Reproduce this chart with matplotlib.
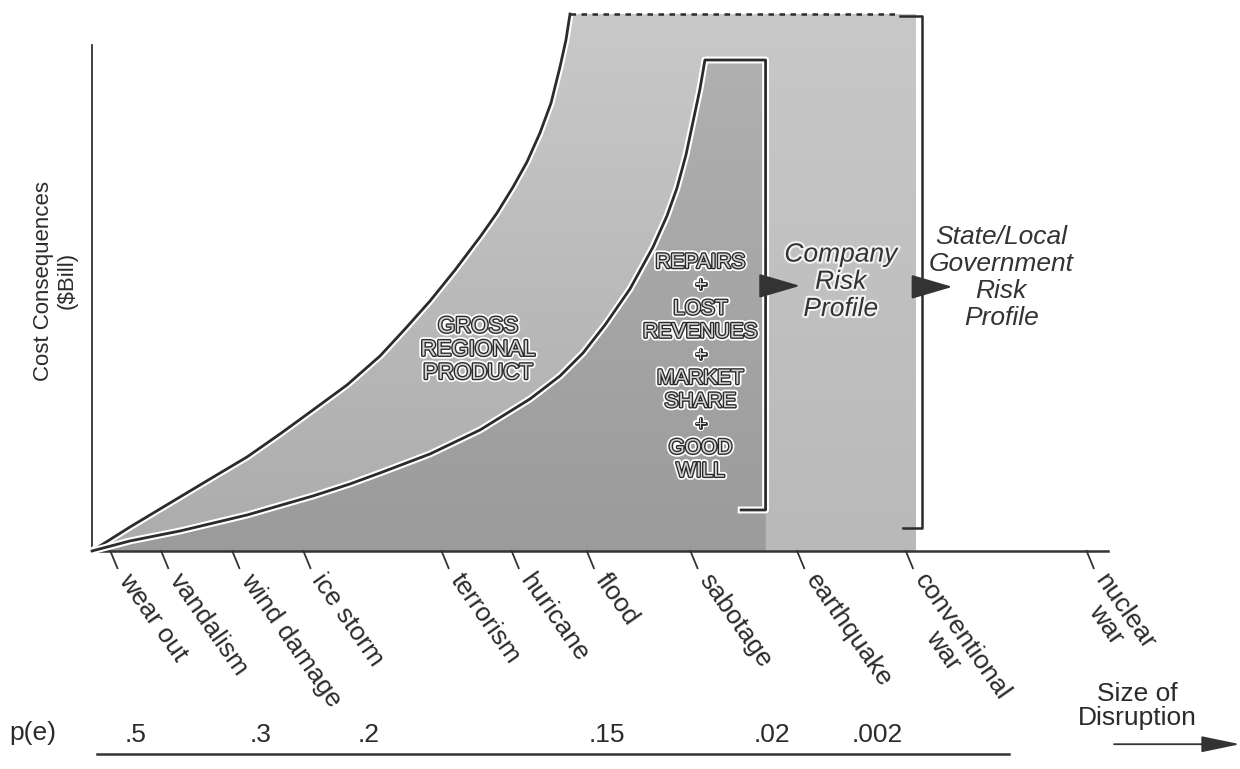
import matplotlib.pyplot as plt
import matplotlib.patheffects as pe
from matplotlib.patches import Polygon
from matplotlib.colors import LinearSegmentedColormap
import numpy as np

plt.rcParams['font.family'] = ['Liberation Sans', 'DejaVu Sans']

# curves: size of disruption (x) vs cost (y)
gross_x = [0, 3.74, 8.66, 12.11, 15.26, 18.50, 21.75, 25.10, 28.35, 30.81, 33.27,
           35.73, 38.19, 39.86, 41.44, 42.81, 44.09, 45.18, 46.06, 46.65, 47.05]
gross_y = [0, 4.74, 10.67, 14.82, 18.58, 23.12, 27.87, 32.81, 38.54, 43.87, 49.41,
           55.53, 62.06, 66.80, 71.94, 76.88, 82.61, 88.54, 95.65, 100.99, 106.13]
company_x = [0, 3.74, 8.66, 15.26, 21.75, 25.39, 28.35, 33.27, 38.19, 43.11, 46.06,
             48.33, 50.49, 52.95, 55.22, 56.59, 57.58, 58.46, 59.15, 59.84, 60.33]
company_y = [0, 1.98, 3.95, 7.11, 10.87, 13.24, 15.42, 19.17, 23.91, 30.04, 34.58,
             39.13, 44.66, 51.78, 60.08, 66.21, 71.74, 78.26, 84.78, 91.30, 97.04]
company_edge = 66.3
company_floor = 8.1
state_edge = 81.1
state_bracket = 81.7
state_floor = 4.6
top_cost = 106.1

hazards = ['wear out', 'vandalism', 'wind damage', 'ice storm', 'terrorism', 'huricane',
           'flood', 'sabotage', 'earthquake', 'conventional\nwar', 'nuclear\nwar']
hazard_x = [1.8, 6.8, 13.8, 20.8, 34.4, 41.3, 48.7, 58.9, 69.4, 80.1, 97.9]
p_labels = ['.5', '.3', '.2', '.15', '.02', '.002']
p_x = [4.3, 16.6, 27.2, 50.7, 66.9, 77.3]

ink = '#2b2b2b'
halo = [pe.Stroke(linewidth=5, foreground='white'), pe.Normal()]

fig = plt.figure(figsize=(12.4, 7.69), dpi=100)
ax = fig.add_axes([0, 0, 1, 1])


def shade(xs, ys, low, high, z):
    # vertical grey gradient clipped to a polygon
    poly = Polygon(list(zip(xs, ys)), closed=True, facecolor='none', edgecolor='none')
    ax.add_patch(poly)
    cmap = LinearSegmentedColormap.from_list('g', [low, high])
    grad = np.linspace(0, 1, 256).reshape(-1, 1)
    im = ax.imshow(grad, extent=[min(xs), max(xs), 0, max(ys)], origin='lower', cmap=cmap,
                   aspect='auto', zorder=z, interpolation='bilinear')
    im.set_clip_path(poly)


shade(gross_x + [state_edge, state_edge], gross_y + [top_cost, 0], '#acacac', '#c9c9c9', 1)
shade([company_edge, state_edge, state_edge, company_edge], [0, 0, top_cost, top_cost],
      '#b9b9b9', '#c8c8c8', 1.5)
shade(company_x + [company_edge, company_edge], company_y + [company_y[-1], 0],
      '#9b9b9b', '#b0b0b0', 2)

# curves and brackets
ax.plot(gross_x, gross_y, color=ink, lw=2, path_effects=halo, zorder=4)
ax.plot(company_x + [company_edge, company_edge, company_edge - 2.4],
        company_y + [company_y[-1], company_floor, company_floor],
        color=ink, lw=2, path_effects=halo, zorder=4)
ax.plot([gross_x[-1], state_edge - 1.6], [top_cost, top_cost], color=ink, lw=1.8,
        ls=(0, (2.2, 2.2)), zorder=4)
ax.plot([state_edge - 1.6, state_bracket, state_bracket, state_bracket - 1.9],
        [top_cost - 0.4, top_cost - 0.4, state_floor, state_floor], color=ink, lw=1.8, zorder=4)

# arrows to the profiles
arrow = dict(arrowstyle='-|>,head_length=1.3,head_width=0.38', color='#333333', lw=1.5,
             mutation_scale=20, shrinkA=0, shrinkB=0)
ax.annotate('', xy=(69.7, 52.4), xytext=(company_edge, 52.4), arrowprops=arrow, zorder=5)
ax.annotate('', xy=(84.7, 52.2), xytext=(state_bracket, 52.2), arrowprops=arrow, zorder=5)

# axes
ax.plot([0, 0], [0, 100], color='#333333', lw=1.3, zorder=3)
ax.plot([0, 100], [0, 0], color='#333333', lw=1.8, zorder=3)

for x, name in zip(hazard_x, hazards):
    ax.plot([x, x + 0.7], [0, -3.4], color='#333333', lw=1.3)
    ax.text(x + 2.3, -3.6, name, rotation=-55, rotation_mode='anchor', ha='left', va='top',
            multialignment='center', fontsize=19, color=ink, linespacing=0.95)

ax.text(-5.8, -36.0, 'p(e)', ha='center', va='center', fontsize=19, color=ink)
for x, lab in zip(p_x, p_labels):
    ax.text(x, -36.4, lab, ha='center', va='center', fontsize=19, color=ink)
ax.plot([0.5, 90.3], [-40.2, -40.2], color='#333333', lw=1.8)

ax.text(102.9, -30.6, 'Size of\nDisruption', ha='center', va='center', fontsize=19,
        color=ink, linespacing=1.0)
ax.annotate('', xy=(113.0, -38.2), xytext=(100.6, -38.2),
            arrowprops=dict(arrowstyle='-|>,head_length=1.2,head_width=0.25', color='#333333',
                            lw=1.3, mutation_scale=20, shrinkA=0, shrinkB=0))

ax.text(-3.6, 53.4, 'Cost Consequences\n($Bill)', rotation=90, ha='center', va='center',
        fontsize=16, color=ink, linespacing=1.2)

# labels inside the shaded area
emboss = [pe.Stroke(linewidth=4.5, foreground='white'), pe.Stroke(linewidth=2, foreground=ink), pe.Normal()]
ax.text(38.0, 39.7, 'GROSS\nREGIONAL\nPRODUCT', ha='center', va='center', fontsize=16,
        color='#d4d4d4', linespacing=1.14, path_effects=emboss, zorder=6)
ax.text(59.9, 36.4, 'REPAIRS\n+\nLOST\nREVENUES\n+\nMARKET\nSHARE\n+\nGOOD\nWILL', ha='center',
        va='center', fontsize=15, color='#d4d4d4', linespacing=1.28, path_effects=emboss, zorder=6)
ax.text(73.7, 53.2, 'Company\nRisk\nProfile', ha='center', va='center', fontsize=19,
        style='italic', color='#333333', linespacing=1.17,
        path_effects=[pe.Stroke(linewidth=3, foreground='#f2f2f2'), pe.Normal()], zorder=6)
ax.text(89.5, 54.0, 'State/Local\nGovernment\nRisk\nProfile', ha='center', va='center',
        fontsize=19, style='italic', color='#333333', linespacing=1.15, zorder=6)

ax.set_xlim(-9.06, 113.0)
ax.set_ylim(-43.1, 108.9)
ax.axis('off')

fig.savefig('out.png', dpi=100)
